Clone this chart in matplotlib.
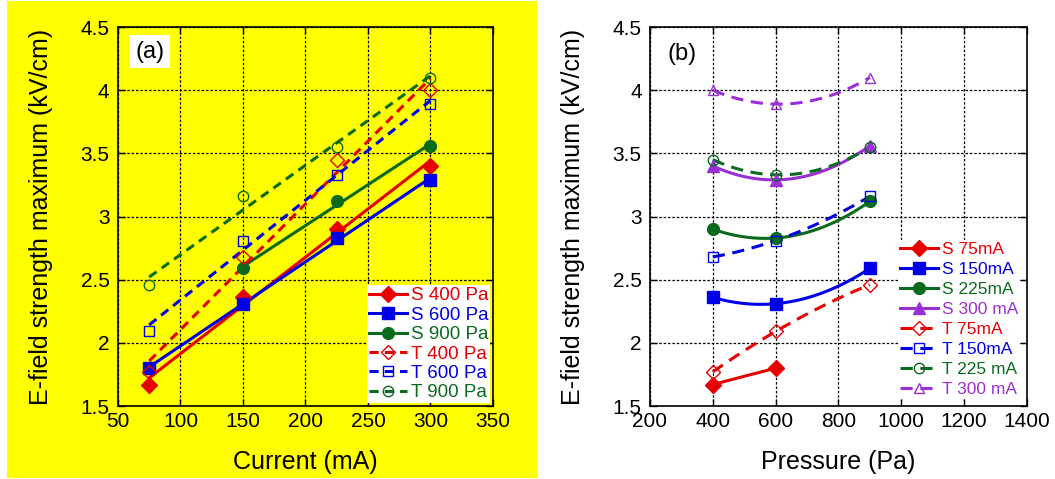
import numpy as np
import matplotlib.pyplot as plt
from matplotlib.patches import Rectangle
from matplotlib.lines import Line2D

plt.rcParams['font.family'] = ['Liberation Sans', 'DejaVu Sans']

# datos
corrientes = [75, 150, 225, 300]          # mA
presiones = [400, 600, 900]               # Pa

# filas = presion, columnas = corriente
s_vals = np.array([
    [1.67, 2.36, 2.90, 3.40],     # S 400 Pa
    [1.80, 2.31, 2.83, 3.29],     # S 600 Pa
    [np.nan, 2.59, 3.12, 3.56],   # S 900 Pa
])
t_vals = np.array([
    [1.77, 2.68, 3.45, 4.00],     # T 400 Pa
    [2.09, 2.81, 3.33, 3.89],     # T 600 Pa
    [2.46, 3.16, 3.55, 4.10],     # T 900 Pa
])

etiquetas_a_s = ["S 400 Pa", "S 600 Pa", "S 900 Pa"]
etiquetas_a_t = ["T 400 Pa", "T 600 Pa", "T 900 Pa"]
etiquetas_b_s = ["S 75mA", "S 150mA", "S 225mA", "S 300 mA"]
etiquetas_b_t = ["T 75mA", "T 150mA", "T 225 mA", "T 300 mA"]

rojo, azul, verde, morado = "#e60000", "#0000e6", "#0a6b1e", "#9b2fd6"
col_a = [rojo, azul, verde]
mk_a = ["D", "s", "o"]
col_b = [rojo, azul, verde, morado]
mk_b = ["D", "s", "o", "^"]

yticks = [1.5, 2, 2.5, 3, 3.5, 4, 4.5]
ytick_lab = ["1.5", "2", "2.5", "3", "3.5", "4", "4.5"]

fig = plt.figure(figsize=(10.55, 4.79), dpi=100)
fig.patches.append(Rectangle((7 / 1055, 1 / 479), 530 / 1055, 477 / 479,
                             transform=fig.transFigure, facecolor="#ffff00",
                             edgecolor="none", zorder=-10))

ax1 = fig.add_axes([0.1118, 0.1524, 0.3555, 0.7912])
ax2 = fig.add_axes([0.6161, 0.1524, 0.3573, 0.7912])
ax1.set_facecolor("#ffff00")
ax2.set_facecolor("white")


def estilo(ax, xt):
    ax.set_ylim(1.5, 4.5)
    ax.set_yticks(yticks)
    ax.set_yticklabels(ytick_lab)
    ax.set_xticks(xt)
    ax.set_xlim(xt[0], xt[-1])
    ax.grid(True, color="black", linestyle=(0, (2, 1.5)), linewidth=0.9)
    ax.tick_params(direction="in", top=True, right=True, labelsize=15,
                   length=5, width=1)
    ax.tick_params(axis="y", pad=6)
    ax.tick_params(axis="x", pad=4)
    for s in ax.spines.values():
        s.set_linewidth(1.2)
    ax.set_ylabel("E-field strength maximum (kV/cm)", fontsize=18, labelpad=20)


# ---------- (a) ----------
estilo(ax1, [50, 100, 150, 200, 250, 300, 350])
x = np.array(corrientes, dtype=float)
xf = np.linspace(75, 300, 50)
handles_a = []
for i in range(3):
    ok = ~np.isnan(s_vals[i])
    p = np.polyfit(x[ok], s_vals[i][ok], 1)
    xx = xf[xf >= x[ok][0]]
    ax1.plot(xx, np.polyval(p, xx), color=col_a[i], lw=2.2, zorder=3)
    ax1.plot(x[ok], s_vals[i][ok], mk_a[i], color=col_a[i], ms=8.5, zorder=4)
    handles_a.append(Line2D([], [], color=col_a[i], lw=2.2, marker=mk_a[i], ms=8.5))
for i in range(3):
    p = np.polyfit(x, t_vals[i], 1)
    ax1.plot(xf, np.polyval(p, xf), color=col_a[i], lw=2.2, ls=(0, (3, 2)), zorder=3)
    ax1.plot(x, t_vals[i], mk_a[i], color=col_a[i], mfc="none", ms=7.5, mew=1, zorder=4)
    handles_a.append(Line2D([], [], color=col_a[i], lw=2.2, ls=(0, (3, 2)),
                            marker=mk_a[i], mfc="none", ms=7.5, mew=1))
leg = ax1.legend(handles_a, etiquetas_a_s + etiquetas_a_t, loc="lower right",
                 fontsize=13.5, frameon=True, fancybox=False, edgecolor="none",
                 framealpha=1, handlelength=2.05, handletextpad=0.2,
                 labelspacing=0.12, borderpad=0.1, borderaxespad=0.15)
for txt, c in zip(leg.get_texts(), col_a + col_a):
    txt.set_color(c)
ax1.set_xlabel("Current (mA)", fontsize=18, labelpad=14)
ax1.text(0.085, 0.935, "(a)", transform=ax1.transAxes, fontsize=17, ha="center",
         va="center", bbox=dict(facecolor="white", edgecolor="none", pad=4))

# ---------- (b) ----------
estilo(ax2, [200, 400, 600, 800, 1000, 1200, 1400])
pr = np.array(presiones, dtype=float)
pf = np.linspace(400, 900, 80)
handles_b = []
for j in range(4):
    y = s_vals[:, j]
    ok = ~np.isnan(y)
    grado = min(2, ok.sum() - 1)
    p = np.polyfit(pr[ok], y[ok], grado)
    xx = np.linspace(pr[ok][0], pr[ok][-1], 80)
    ax2.plot(xx, np.polyval(p, xx), color=col_b[j], lw=2.2, zorder=3)
    ax2.plot(pr[ok], y[ok], mk_b[j], color=col_b[j], ms=8.5, zorder=4)
    handles_b.append(Line2D([], [], color=col_b[j], lw=2.2, marker=mk_b[j], ms=8.5))
for j in range(4):
    y = t_vals[:, j]
    p = np.polyfit(pr, y, 2)
    ax2.plot(pf, np.polyval(p, pf), color=col_b[j], lw=2.2, ls=(0, (4, 2.5)), zorder=3)
    ax2.plot(pr, y, mk_b[j], color=col_b[j], mfc="none", ms=7.5, mew=1, zorder=4)
    handles_b.append(Line2D([], [], color=col_b[j], lw=2.2, ls=(0, (4, 2.5)),
                            marker=mk_b[j], mfc="none", ms=7.5, mew=1))
leg2 = ax2.legend(handles_b, etiquetas_b_s + etiquetas_b_t, loc="lower right",
                  fontsize=12.5, frameon=True, fancybox=False, edgecolor="none",
                  framealpha=1, handlelength=2.2, handletextpad=0.2,
                  labelspacing=0.28, borderpad=0.1, borderaxespad=0.4)
for txt, c in zip(leg2.get_texts(), col_b + col_b):
    txt.set_color(c)
ax2.set_xlabel("Pressure (Pa)", fontsize=18, labelpad=14)
ax2.text(0.085, 0.93, "(b)", transform=ax2.transAxes, fontsize=17, ha="center",
         va="center")

fig.savefig("out.png", dpi=100)
